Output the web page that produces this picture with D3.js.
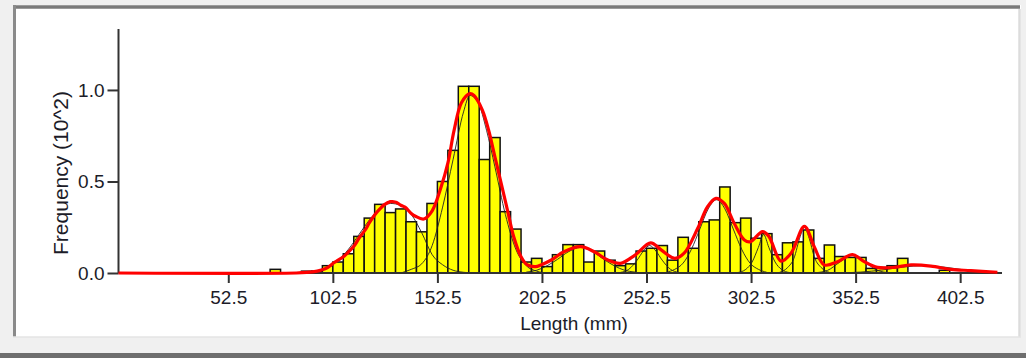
<!DOCTYPE html>
<html lang="en">
<head>
    <meta charset="UTF-8">
    <title>Length frequency</title>
    <style>
        body {
          margin: 0;
          background: #f0f0f0;
          font-family: "Liberation Sans", Arial, sans-serif;
        }
        .bar {
          fill: #ffff00;
          stroke: #111;
          stroke-width: 1.5px;
        }
        .comp {
          fill: none;
          stroke: #222;
          stroke-width: 0.9px;
        }
        .fit {
          fill: none;
          stroke: #ff0000;
          stroke-width: 3.2px;
        }
        .axis path, .axis line {
          stroke: #333;
          stroke-width: 2px;
        }
        .axis text {
          font-family: "Liberation Sans", Arial, sans-serif;
          font-size: 19px;
          fill: #1c1c28;
        }
        .title {
          font-size: 19px;
          fill: #1c1c28;
        }
    </style>
</head>
<body>
    <script src="https://d3js.org/d3.v7.min.js"></script>
    <script>
        // histogram bins (centre, mm) and frequency (x 10^2)
        var binCenters = [75, 80, 85, 90, 95, 100, 105, 110, 115, 120, 125, 130, 135, 140, 145, 150, 155, 160, 165, 170,
                          175, 180, 185, 190, 195, 200, 205, 210, 215, 220, 225, 230, 235, 240, 245, 250, 255, 260, 265, 270,
                          275, 280, 285, 290, 295, 300, 305, 310, 315, 320, 325, 330, 335, 340, 345, 350, 355, 360, 365, 370,
                          375, 380, 385, 390, 395];
        var binFreq = [0.02, 0, 0, 0.01, 0.01, 0.04, 0.06, 0.105, 0.20, 0.30, 0.375, 0.33, 0.35, 0.28, 0.225, 0.38, 0.50, 0.67, 1.02, 1.02,
                       0.62, 0.74, 0.335, 0.24, 0.06, 0.08, 0.035, 0.10, 0.155, 0.155, 0.06, 0.12, 0.07, 0.04, 0.05, 0.12, 0.135, 0.15, 0.07, 0.195,
                       0.135, 0.28, 0.29, 0.47, 0.275, 0.30, 0.19, 0.215, 0.10, 0.165, 0.17, 0.235, 0.08, 0.153, 0.09, 0.085, 0.085, 0.025, 0.03, 0.04,
                       0.08, 0, 0, 0, 0.015];
        var binWidth = 5;

        // fitted total (red)
        var fitX = [0, 85, 90, 95, 97, 100, 103, 105, 108, 110, 113, 115, 118, 120, 122.5, 125, 127, 130, 131, 133, 135, 137, 140, 142,
                    146, 150, 154, 157.5, 160.5, 164, 168, 170, 174, 177, 180, 183, 186, 189, 192.5, 195.5, 199.5, 202, 207, 213,
                    221, 227.5, 234, 240, 247, 254.5, 259.5, 266, 270.5, 277, 281.7, 285.7, 289.7, 294.5, 299.3, 302, 308, 311,
                    316.8, 321.6, 328, 332.7, 337.5, 343.9, 351, 356.6, 363, 371, 379, 388.5, 398, 407.6, 420.3];
        var fitY = [0, 0, 0.003, 0.01, 0.016, 0.03, 0.056, 0.07, 0.093, 0.115, 0.153, 0.19, 0.235, 0.275, 0.317, 0.35, 0.372, 0.39, 0.39, 0.385, 0.37, 0.36, 0.325, 0.31,
                    0.295, 0.34, 0.46, 0.60, 0.78, 0.93, 0.98, 0.97, 0.89, 0.78, 0.635, 0.49, 0.344, 0.198, 0.089, 0.044, 0.035, 0.044, 0.071, 0.116,
                    0.144, 0.116, 0.071, 0.053, 0.098, 0.165, 0.126, 0.08, 0.108, 0.244, 0.362, 0.408, 0.38, 0.27, 0.18, 0.17, 0.226, 0.2,
                    0.065, 0.108, 0.255, 0.144, 0.044, 0.062, 0.1, 0.062, 0.031, 0.031, 0.044, 0.038, 0.02, 0.013, 0.004];

        // single components (thin black), [mm, freq]
        var comp1 = [[95, 0.01], [100, 0.03], [105, 0.07], [110, 0.13], [115, 0.21], [120, 0.29], [125, 0.35], [130, 0.38], [135, 0.37],
                     [140, 0.32], [145, 0.22], [150, 0.10], [155, 0.045], [160, 0.015], [165, 0.004], [170, 0]];
        var comp2 = [[135, 0], [140, 0.02], [145, 0.05], [150, 0.15], [155, 0.36], [160, 0.62], [165, 0.88], [168, 0.97], [172, 0.93],
                     [176, 0.78], [180, 0.58], [185, 0.32], [190, 0.13], [195, 0.04], [200, 0.01], [205, 0]];
        var comp3 = [[195, 0.005], [200, 0.015], [205, 0.04], [210, 0.075], [215, 0.115], [221, 0.14], [227, 0.115], [232, 0.075],
                     [237, 0.04], [242, 0.015], [247, 0.005]];
        var comp4 = [[240, 0.003], [244, 0.02], [248, 0.07], [251, 0.12], [254, 0.15], [257, 0.12], [260, 0.07], [264, 0.02], [268, 0.003]];
        var comp5 = [[262, 0.004], [266, 0.02], [270, 0.054], [274, 0.13], [278, 0.24], [282, 0.35], [286, 0.40], [290, 0.35], [294, 0.24],
                     [298, 0.13], [302, 0.054], [306, 0.02], [310, 0.004]];
        var comp6 = [[296, 0.002], [300, 0.02], [303, 0.06], [306, 0.14], [308.5, 0.21], [311, 0.14], [314, 0.06], [317, 0.02], [321, 0.002]];
        var comp7 = [[316, 0.003], [320, 0.03], [323, 0.08], [326, 0.2], [328, 0.25], [330, 0.2], [333, 0.08], [336, 0.03], [340, 0.003]];
        var comp8 = [[333, 0.001], [339, 0.014], [345, 0.06], [351, 0.1], [357, 0.06], [363, 0.014], [369, 0.001]];
        var comp9 = [[345, 0.001], [355, 0.005], [365, 0.016], [375, 0.032], [385, 0.04], [395, 0.032], [405, 0.016], [415, 0.005], [422, 0.002]];

        var xTicks = [52.5, 102.5, 152.5, 202.5, 252.5, 302.5, 352.5, 402.5];
        var yTicks = [0, 0.5, 1.0];

        var width = 1026,
            height = 358;

        var svg = d3.select("body").append("svg")
            .attr("width", width)
            .attr("height", height)
            .style("display", "block");

        // window frame
        svg.append("rect").attr("x", 0).attr("y", 0).attr("width", width).attr("height", height).attr("fill", "#f0f0f0");
        svg.append("rect").attr("x", 13).attr("y", 5).attr("width", 1008).attr("height", 332).attr("fill", "#fff");
        svg.append("line").attr("x1", 13).attr("x2", 1020).attr("y1", 7).attr("y2", 7)
            .attr("stroke", "#7a7a7a").attr("stroke-width", 3.5);
        svg.append("line").attr("x1", 14.5).attr("x2", 14.5).attr("y1", 5).attr("y2", 337)
            .attr("stroke", "#8a8a8a").attr("stroke-width", 3);
        svg.append("line").attr("x1", 1019.5).attr("x2", 1019.5).attr("y1", 9).attr("y2", 337)
            .attr("stroke", "#dcdcdc").attr("stroke-width", 2.5);
        svg.append("line").attr("x1", 13).attr("x2", 1021).attr("y1", 337).attr("y2", 337)
            .attr("stroke", "#e4e4e4").attr("stroke-width", 1.5);
        svg.append("rect").attr("x", 0).attr("y", 353).attr("width", width).attr("height", 5).attr("fill", "#6e6e6e");

        var x = d3.scaleLinear()
            .domain([0, 422.5])
            .range([118.5, 1002]);

        var y = d3.scaleLinear()
            .domain([0, 1.333])
            .range([273, 29]);

        var bins = binCenters.map(function(c, i) { return {c: c, f: binFreq[i]}; })
            .filter(function(d) { return d.f > 0; });

        svg.append("g").selectAll("rect")
            .data(bins)
          .enter().append("rect")
            .attr("class", "bar")
            .attr("x", function(d) { return x(d.c - binWidth / 2); })
            .attr("width", function(d) { return x(d.c + binWidth / 2) - x(d.c - binWidth / 2); })
            .attr("y", function(d) { return y(d.f); })
            .attr("height", function(d) { return y(0) - y(d.f); });

        var compLine = d3.line()
            .x(function(d) { return x(d[0]); })
            .y(function(d) { return y(d[1]); })
            .curve(d3.curveMonotoneX);

        svg.append("g").selectAll("path")
            .data([comp1, comp2, comp3, comp4, comp5, comp6, comp7, comp8, comp9])
          .enter().append("path")
            .attr("class", "comp")
            .attr("d", compLine);

        // axes
        svg.append("g")
            .attr("class", "axis")
            .attr("transform", "translate(0," + y(0) + ")")
            .call(d3.axisBottom(x).tickValues(xTicks).tickSize(10).tickPadding(8).tickFormat(d3.format(".1f")))
            .call(function(g) { g.select(".domain").attr("d", "M" + x(0) + ",0H" + x(422.5)); });

        svg.append("g")
            .attr("class", "axis")
            .attr("transform", "translate(" + x(0) + ",0)")
            .call(d3.axisLeft(y).tickValues(yTicks).tickSize(11).tickPadding(3).tickFormat(d3.format(".1f")))
            .call(function(g) { g.select(".domain").attr("d", "M0," + y(1.333) + "V" + y(0)); });

        var fitLine = d3.line()
            .x(function(d, i) { return x(fitX[i]); })
            .y(function(d) { return y(d); })
            .curve(d3.curveCatmullRom);

        svg.append("path")
            .datum(fitY)
            .attr("class", "fit")
            .attr("d", fitLine);

        svg.append("text")
            .attr("class", "title")
            .attr("x", 574)
            .attr("y", 330)
            .attr("text-anchor", "middle")
            .text("Length (mm)");

        svg.append("text")
            .attr("class", "title")
            .attr("transform", "translate(68,173)rotate(-90)")
            .attr("text-anchor", "middle")
            .style("font-size", "21px")
            .text("Frequency (10^2)");
    </script>
</body>
</html>
